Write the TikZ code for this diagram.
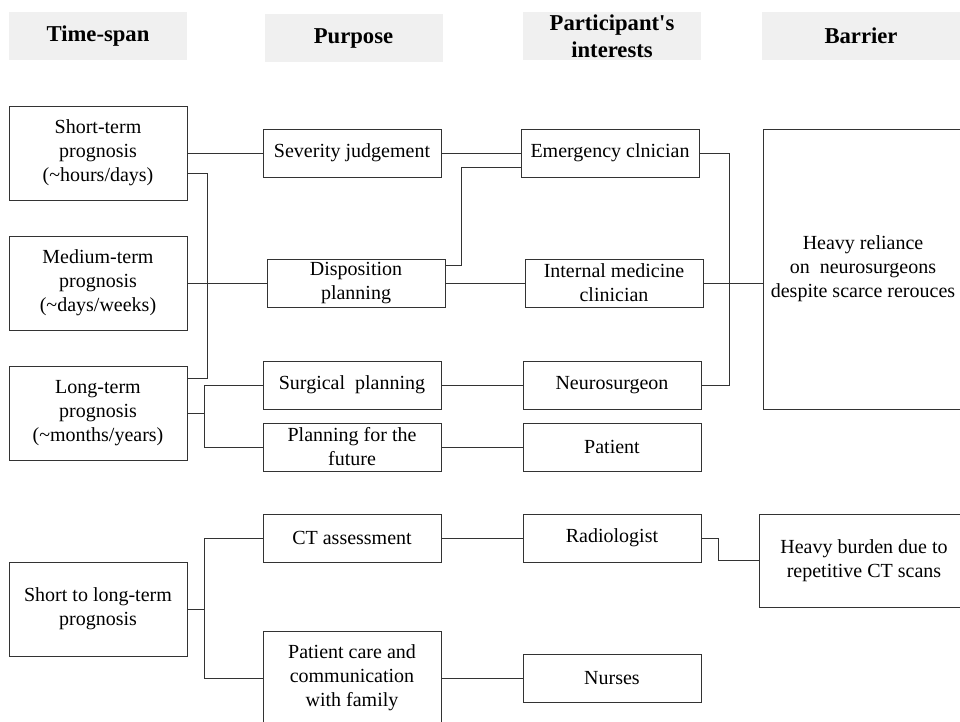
\documentclass[tikz,border=0pt]{standalone}
\usepackage{fontspec}
\setmainfont{Liberation Serif}
\usetikzlibrary{positioning,calc}

\tikzset{
   box/.style={draw=black!80, line width=0.75pt, align=center, inner sep=2pt,
      minimum width=133.5pt, minimum height=36pt,
      font=\fontsize{15}{18}\selectfont},
   tallbox/.style={box, minimum height=70.5pt},
   headbox/.style={fill=black!6, align=center, inner sep=2pt,
      minimum width=133.5pt, minimum height=36pt,
      font=\fontsize{17}{20}\selectfont\bfseries},
   link/.style={draw=black!80, line width=0.75pt}
}

\begin{document}
\begin{tikzpicture}[x=0.75pt, y=-0.75pt]
   \clip (0,0) rectangle (960,721);

   % column headers
   \node[headbox] (hTime)    at (98,36)    {Time-span};
   \node[headbox] (hPurpose) at (353.5,38) {Purpose};
   \node[headbox] (hPart)    at (612,36)   {Participant\textquotesingle s\\interests};
   \node[headbox, minimum width=148.5pt] (hBarrier) at (861,36) {Barrier};

   % time-span
   \node[tallbox] (short)     at (98,153) {Short-term\\prognosis\\(\textasciitilde hours/days)};
   \node[tallbox] (medium)    at (98,283) {Medium-term\\prognosis\\(\textasciitilde days/weeks)};
   \node[tallbox] (long)      at (98,413) {Long-term\\prognosis\\(\textasciitilde months/years)};
   \node[tallbox] (shortlong) at (98,609) {Short to long-term\\prognosis};

   % purpose
   \node[box] (sev)    at (352,153) {Severity judgement};
   \node[box] (disp)   at (356,283) {Disposition\\planning};
   \node[box] (surg)   at (352,385) {Surgical\ \ planning};
   \node[box] (future) at (352,447) {Planning for the\\future};
   \node[box] (ct)     at (352,538) {CT assessment};
   \node[tallbox] (care) at (352,678) {Patient care and\\communication\\with family};

   % participants
   \node[box] (emerg)   at (610,153) {Emergency clnician};
   \node[box] (intern)  at (614,283) {Internal medicine\\clinician};
   \node[box] (neuro)   at (612,385) {Neurosurgeon};
   \node[box] (patient) at (612,447) {Patient};
   \node[box] (radio)   at (612,538) {Radiologist};
   \node[box] (nurses)  at (612,678) {Nurses};

   % barriers
   \node[box, minimum width=150pt, minimum height=210pt] (reliance) at (863,269)
      {Heavy reliance\\on\ \ neurosurgeons\\despite scarce rerouces};
   \node[box, minimum width=157.5pt, minimum height=69.75pt] (burden) at (864,560.5)
      {Heavy burden due to\\repetitive CT scans};

   % time-span -> purpose
   \draw[link] (short.east) -- (sev.west);
   \draw[link] ($(short.east)+(0,20)$) -| ($(long.east)+(20,-35)$) -- ($(long.east)+(0,-35)$);
   \draw[link] (medium.east) -- (disp.west);
   \draw[link] (long.east) -- ++(17,0) coordinate (lj);
   \draw[link] (surg.west) -| (lj) |- (future.west);
   \draw[link] (shortlong.east) -- ++(17,0) coordinate (sj);
   \draw[link] (ct.west) -| (sj) |- (care.west);

   % purpose -> participants
   \draw[link] (sev.east) -- (emerg.west);
   \draw[link] ($(disp.east)+(0,-18)$) -| ($(emerg.west)+(-59,14)$) -- ($(emerg.west)+(0,14)$);
   \draw[link] (disp.east) -- (intern.west);
   \draw[link] (surg.east) -- (neuro.west);
   \draw[link] (future.east) -- (patient.west);
   \draw[link] (ct.east) -- (radio.west);
   \draw[link] (care.east) -- (nurses.west);

   % participants -> barriers
   \draw[link] (emerg.east) -| ($(neuro.east)+(28,0)$) -- (neuro.east);
   \draw[link] (intern.east) -- (intern.east -| reliance.west);
   \draw[link] (radio.east) -- ++(17,0) |- (burden.west);
\end{tikzpicture}
\end{document}
